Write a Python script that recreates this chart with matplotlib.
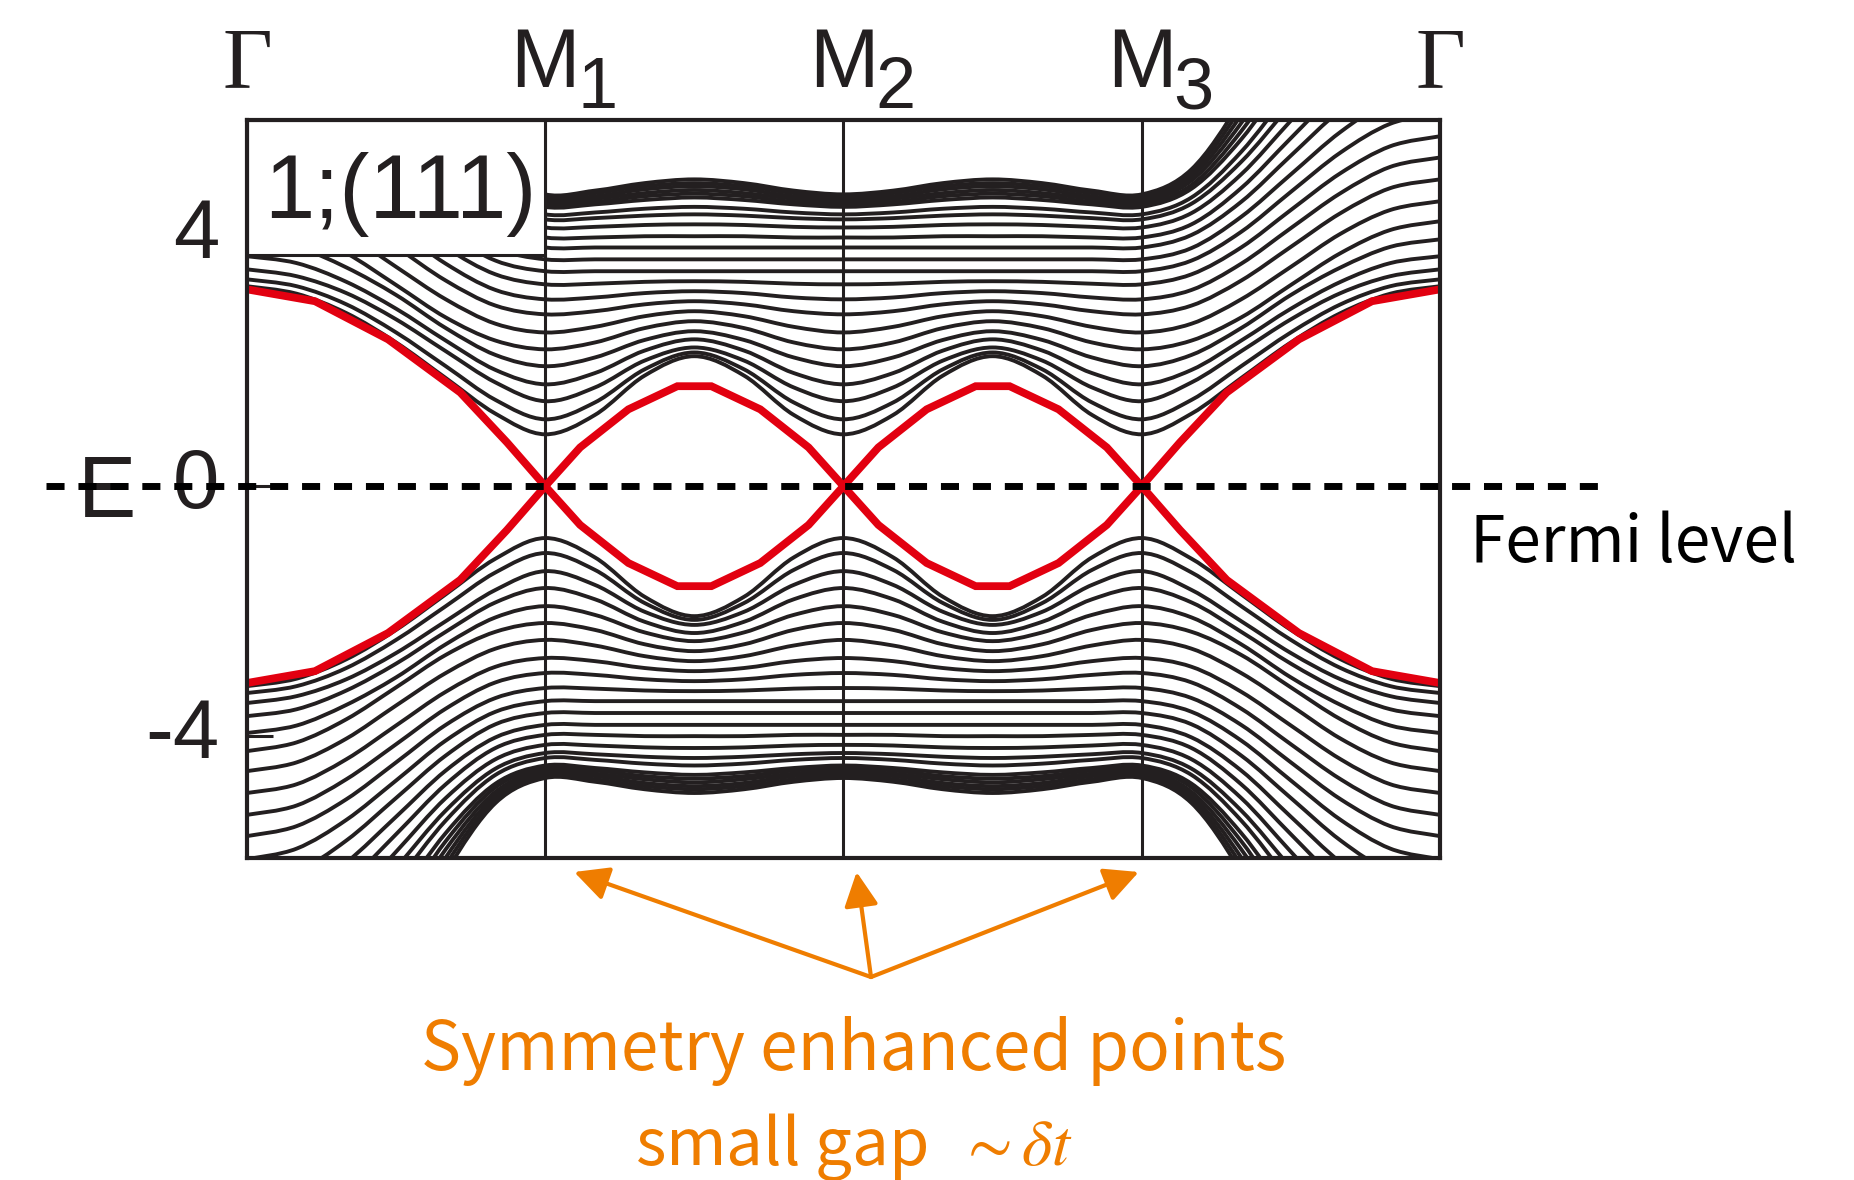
import matplotlib
matplotlib.use("Agg")
import matplotlib.pyplot as plt
from matplotlib.patches import Rectangle, PathPatch
from matplotlib.path import Path
from matplotlib.transforms import blended_transform_factory, ScaledTranslation

plt.rcParams['font.family'] = ['Liberation Sans', 'DejaVu Sans']
plt.rcParams['mathtext.fontset'] = 'stix'

INK = '#231f20'
RED = '#e20010'
ORANGE = '#ef7d00'
CJK = ['Noto Sans CJK JP', 'DejaVu Sans']

# k-path  Gamma - M1 - M2 - M3 - Gamma  (each segment has length 1)
path_pos = [0, 1, 2, 3, 4]
path_names = ['Γ', 'M', 'M', 'M', 'Γ']
path_subs = ['', '1', '2', '3', '']

# nodes along Gamma->M (fraction of segment) and along M->middle of M-M
gm_k = [0, 1/6, 2/6, 3/6, 4/6, 5/6, 1]
mm_k = [1/6, 2/6, 3/6]

# upper bulk bands read at gm_k (Gamma ... M)
bands_gm = [
    [3.20, 3.08, 2.77, 2.30, 1.73, 1.16, 0.83],
    [3.31, 3.20, 2.91, 2.46, 1.92, 1.38, 1.07],
    [3.47, 3.36, 3.09, 2.67, 2.16, 1.66, 1.36],
    [3.68, 3.57, 3.27, 2.84, 2.33, 1.86, 1.63],
    [3.95, 3.83, 3.50, 3.06, 2.53, 2.10, 1.92],
    [4.24, 4.10, 3.73, 3.22, 2.70, 2.33, 2.19],
    [4.56, 4.42, 4.04, 3.51, 2.99, 2.60, 2.46],
    [4.91, 4.77, 4.37, 3.83, 3.29, 2.89, 2.75],
    [5.26, 5.11, 4.69, 4.13, 3.56, 3.14, 2.99],
    [5.60, 5.44, 5.01, 4.42, 3.82, 3.39, 3.23],
    [5.97, 5.80, 5.34, 4.71, 4.07, 3.61, 3.44],
    [6.35, 6.17, 5.67, 4.99, 4.31, 3.81, 3.63],
    [6.75, 6.55, 6.02, 5.29, 4.55, 4.02, 3.82],
    [7.15, 6.94, 6.36, 5.57, 4.77, 4.19, 3.98],
    [7.55, 7.32, 6.70, 5.85, 4.99, 4.37, 4.14],
    [7.95, 7.70, 7.03, 6.11, 5.19, 4.52, 4.27],
    [8.35, 8.08, 7.35, 6.35, 5.35, 4.62, 4.35],
    [8.80, 8.51, 7.72, 6.64, 5.55, 4.76, 4.47],
    [9.20, 8.89, 8.03, 6.86, 5.68, 4.82, 4.51],
    [9.60, 9.26, 8.34, 7.08, 5.81, 4.89, 4.55],
    [10.00, 9.64, 8.65, 7.30, 5.94, 4.95, 4.59],
    [10.35, 9.97, 8.92, 7.49, 6.06, 5.01, 4.63],
    [10.70, 10.30, 9.19, 7.69, 6.18, 5.07, 4.67],
]
# same bands read at mm_k (towards the middle of M-M)
bands_mm = [
    [1.14, 1.77, 2.08],
    [1.34, 1.87, 2.14],
    [1.58, 2.01, 2.22],
    [1.81, 2.17, 2.35],
    [2.06, 2.34, 2.48],
    [2.30, 2.53, 2.64],
    [2.55, 2.72, 2.80],
    [2.80, 2.91, 2.96],
    [3.02, 3.09, 3.12],
    [3.24, 3.27, 3.28],
    [3.44, 3.44, 3.44],
    [3.63, 3.63, 3.63],
    [3.82, 3.82, 3.82],
    [3.98, 4.00, 4.00],
    [4.15, 4.18, 4.19],
    [4.29, 4.33, 4.35],
    [4.38, 4.44, 4.47],
    [4.51, 4.58, 4.62],
    [4.55, 4.64, 4.68],
    [4.60, 4.69, 4.74],
    [4.64, 4.75, 4.80],
    [4.69, 4.80, 4.85],
    [4.73, 4.85, 4.91],
]

# surface states (red)
red_k = [0, 0.228, 0.473, 0.715, 0.872, 1, 1.117, 1.279, 1.443, 1.557, 1.721, 1.883, 2,
         2.117, 2.279, 2.443, 2.557, 2.721, 2.883, 3, 3.128, 3.285, 3.527, 3.772, 4]
red_up = [3.15, 2.96, 2.35, 1.50, 0.70, 0, 0.62, 1.23, 1.60, 1.60, 1.23, 0.62, 0,
          0.62, 1.23, 1.60, 1.60, 1.23, 0.62, 0, 0.70, 1.50, 2.35, 2.96, 3.15]
red_dn = [-3.15, -2.96, -2.35, -1.50, -0.70, 0, -0.62, -1.23, -1.60, -1.60, -1.23, -0.62, 0,
          -0.62, -1.23, -1.60, -1.60, -1.23, -0.62, 0, -0.70, -1.50, -2.35, -2.96, -3.15]


def full_path(gm, mm):
    ks, es = list(gm_k), list(gm)
    for start in (1, 2):
        ks += [start + f for f in mm_k] + [start + 1 - f for f in reversed(mm_k[:-1])] + [start + 1]
        es += list(mm) + list(mm[-2::-1]) + [gm[-1]]
    ks += [4 - f for f in reversed(gm_k[:-1])]
    es += list(gm[-2::-1])
    return ks, es


def smooth(xs, ys):
    # draw a smooth (Catmull-Rom style) curve through the read nodes
    n = len(xs)
    verts, codes = [(xs[0], ys[0])], [Path.MOVETO]
    for i in range(n - 1):
        a = i - 1 if i > 0 else i
        b = i + 2 if i + 2 < n else i + 1
        c1 = (xs[i] + (xs[i + 1] - xs[a]) / 6, ys[i] + (ys[i + 1] - ys[a]) / 6)
        c2 = (xs[i + 1] - (xs[b] - xs[i]) / 6, ys[i + 1] - (ys[b] - ys[i]) / 6)
        verts += [c1, c2, (xs[i + 1], ys[i + 1])]
        codes += [Path.CURVE4] * 3
    return Path(verts, codes)


fig = plt.figure(figsize=(18.54, 11.8), dpi=100)
ax = fig.add_axes([0.1332, 0.2729, 0.6435, 0.6254])
ax.set_xlim(0, 4)
ax.set_ylim(-5.95, 5.86)

for gm, mm in zip(bands_gm, bands_mm):
    ks, es = full_path(gm, mm)
    for sign in (1, -1):
        ax.add_patch(PathPatch(smooth(ks, [sign * e for e in es]), fill=False,
                               edgecolor=INK, lw=2.8, joinstyle='round', zorder=2))

for x in path_pos[1:-1]:
    ax.axvline(x, color=INK, lw=2.2, zorder=2.5)

ax.plot(red_k, red_up, color=RED, lw=5.6, solid_joinstyle='miter', zorder=3)
ax.plot(red_k, red_dn, color=RED, lw=5.6, solid_joinstyle='miter', zorder=3)

# Fermi level
ax.plot([-0.1685, 1.1325], [0, 0], transform=ax.get_yaxis_transform(), color='black',
        lw=5, linestyle=(0, (2.6, 2.0)), clip_on=False, zorder=6)

# label box
ax.add_patch(Rectangle((0, 3.70), 1, 5.86 - 3.70, facecolor='white', edgecolor=INK,
                       lw=2.2, zorder=4))
ax.text(0.513, 4.29, '1;(111)', ha='center', va='baseline', fontsize=65, color=INK, zorder=5)

for s in ax.spines.values():
    s.set_linewidth(3)
    s.set_color(INK)
    s.set_zorder(5)

ax.set_xticks([])
ax.set_yticks([4, 0, -4])
ax.set_yticklabels(['4', '0', '-4'])
ax.tick_params(axis='y', direction='in', length=19, width=2.2, pad=20,
               labelsize=60, colors=INK)
shift = ScaledTranslation(0, 6 / 72, fig.dpi_scale_trans)
for lab in ax.get_yticklabels():
    lab.set_transform(lab.get_transform() + shift)
ax.text(-0.117, -0.50, 'E', transform=ax.get_yaxis_transform(), ha='center',
        va='baseline', fontsize=63, color=INK)

# high-symmetry labels on top
blend = blended_transform_factory(ax.transData, fig.transFigure)
for x, name, sub in zip(path_pos, path_names, path_subs):
    if name == 'Γ':
        ax.text(x, 0.926, name, transform=blend, ha='center', va='baseline',
                fontsize=62, family='Liberation Serif', color=INK)
    else:
        ax.text(x, 0.926, name, transform=blend, ha='center', va='baseline',
                fontsize=60, color=INK)
        ax.annotate(sub, xy=(x, 0.926), xycoords=blend, xytext=(23, -15),
                    textcoords='offset points', ha='left', va='baseline',
                    fontsize=52, color=INK)

fig.text(0.7929, 0.5237, 'Fermi level', ha='left', va='baseline', fontsize=46,
         family=CJK, color='black')

# arrows to the symmetry enhanced points
for tip in [1.097, 2.044, 2.99]:
    ax.annotate('', xy=(tip, -0.019), xycoords=('data', 'axes fraction'),
                xytext=(0.4698, 0.172), textcoords='figure fraction',
                arrowprops=dict(arrowstyle='-|>,head_length=1.3,head_width=0.65',
                                color=ORANGE, lw=3, shrinkA=0, shrinkB=0,
                                mutation_scale=16),
                annotation_clip=False)

fig.text(0.4606, 0.0932, 'Symmetry enhanced points', ha='center', va='baseline',
         fontsize=48.5, family=CJK, color=ORANGE)
fig.text(0.4606, 0.0127, 'small gap  $\\sim\\delta t$', ha='center', va='baseline',
         fontsize=47, family=CJK, color=ORANGE)

fig.savefig('out.png', dpi=100, facecolor='white')
